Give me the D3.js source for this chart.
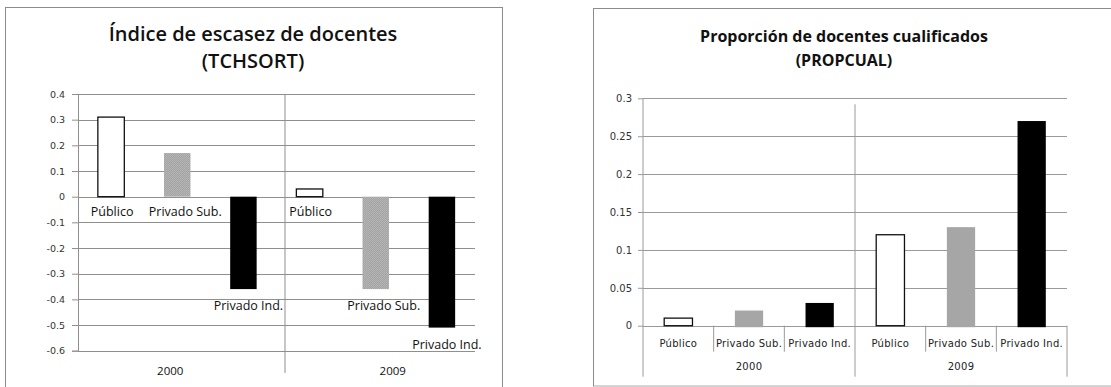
<!DOCTYPE html>
<html>
<head>
<meta charset="utf-8">
<script src="https://cdn.jsdelivr.net/npm/d3@7"></script>
<style>
  html, body { margin: 0; padding: 0; background: #fff; }
  svg { display: block; }
</style>
</head>
<body>
<svg id="chart" width="1111" height="387"></svg>
<script>
// School sectors and survey years
const sectors = ["Público", "Privado Sub.", "Privado Ind."];
const years = ["2000", "2009"];

// Teacher shortage index (TCHSORT) per sector
const tchsort2000 = [0.31, 0.17, -0.36];
const tchsort2009 = [0.03, -0.36, -0.51];

// Share of qualified teachers (PROPCUAL) per sector
const propcual2000 = [0.01, 0.02, 0.03];
const propcual2009 = [0.12, 0.13, 0.27];

// Axis ticks
const tchsortTicks = [0.4, 0.3, 0.2, 0.1, 0, -0.1, -0.2, -0.3, -0.4, -0.5, -0.6];
const propcualTicks = [0, 0.05, 0.1, 0.15, 0.2, 0.25, 0.3];

const svg = d3.select("#chart");

svg.append("defs").append("pattern")
  .attr("id", "stipple").attr("width", 2).attr("height", 2)
  .attr("patternUnits", "userSpaceOnUse")
  .call(p => {
    p.append("rect").attr("width", 2).attr("height", 2).attr("fill", "#a4a4a4");
    p.append("rect").attr("width", 1).attr("height", 1).attr("fill", "#b6b6b6");
    p.append("rect").attr("x", 1).attr("y", 1).attr("width", 1).attr("height", 1).attr("fill", "#b2b2b2");
  });

function rows(v2000, v2009) {
  const out = [];
  years.forEach((yr, gi) => {
    const vals = gi === 0 ? v2000 : v2009;
    sectors.forEach((s, si) => out.push({ key: yr + "|" + s, year: yr, sector: s, si, value: vals[si] }));
  });
  return out;
}

const fmt = v => String(v);

/* ---------------- Left panel: TCHSORT ---------------- */
(function () {
  const data = rows(tchsort2000, tchsort2009);
  const g = svg.append("g");
  const left = 78, right = 475, top = 94, bottom = 350.7;

  g.append("rect").attr("x", 5.5).attr("y", 7.5).attr("width", 497).attr("height", 420)
    .attr("fill", "#fff").attr("stroke", "#8c8c8c").attr("stroke-width", 1);

  const titleFont = t => t.attr("text-anchor", "middle").attr("font-family", "Open Sans")
    .attr("font-weight", 600).attr("font-size", 20).attr("fill", "#111");
  g.append("text").attr("x", 253).attr("y", 40.7).call(titleFont).text("Índice de escasez de docentes");
  g.append("text").attr("x", 253).attr("y", 67.5).call(titleFont).text("(TCHSORT)");

  const y = d3.scaleLinear().domain([-0.6, 0.4]).range([bottom, top]);
  const x = d3.scaleBand().domain(data.map(d => d.key)).range([left, right])
    .paddingInner(0.6).paddingOuter(0.3);

  // gridlines
  g.append("g").selectAll("line").data(tchsortTicks).join("line")
    .attr("x1", left).attr("x2", right)
    .attr("y1", d => Math.round(y(d)) + 0.5).attr("y2", d => Math.round(y(d)) + 0.5)
    .attr("stroke", "#8f8f8f").attr("stroke-width", 1);

  // y axis
  const ax = g.append("g").attr("transform", `translate(${left},0)`)
    .call(d3.axisLeft(y).tickValues(tchsortTicks).tickFormat(fmt).tickSize(6).tickPadding(7));
  ax.select(".domain").attr("stroke", "#8f8f8f");
  ax.selectAll(".tick line").attr("stroke", "#8f8f8f");
  ax.selectAll("text").attr("font-family", "DejaVu Sans").attr("font-size", 9.5).attr("fill", "#333");

  // group divider
  const divX = x(data[3].key) - x.step() * 0.3 + 8.5;
  g.append("line").attr("x1", divX).attr("x2", divX).attr("y1", top).attr("y2", 373)
    .attr("stroke", "#8f8f8f");

  const fills = ["#fff", "url(#stipple)", "#000"];
  g.append("g").selectAll("rect").data(data).join("rect")
    .attr("x", d => x(d.key))
    .attr("width", x.bandwidth())
    .attr("y", d => y(Math.max(0, d.value)))
    .attr("height", d => Math.abs(y(d.value) - y(0)))
    .attr("fill", d => fills[d.si])
    .attr("stroke", d => d.si === 0 ? "#111" : "none")
    .attr("stroke-width", 1.3);

  // category labels next to each bar
  const labelShift = [1, 8, 5];
  g.append("g").selectAll("text").data(data).join("text")
    .attr("x", d => x(d.key) + x.bandwidth() / 2 + labelShift[d.si])
    .attr("y", d => d.value >= 0 ? y(0) + 15 : y(d.value) + 17)
    .attr("dy", "0.35em")
    .attr("text-anchor", "middle")
    .attr("font-family", "Open Sans").attr("font-size", 12.5).attr("fill", "#111")
    .text(d => d.sector);

  // year labels
  g.append("g").selectAll("text").data(years).join("text")
    .attr("x", (yr, i) => x(yr + "|" + sectors[1]) + x.bandwidth() / 2 + (i === 0 ? -7 : 17))
    .attr("y", 371).attr("dy", "0.35em").attr("text-anchor", "middle")
    .attr("font-family", "Open Sans").attr("font-size", 11.5).attr("fill", "#111")
    .text(d => d);
})();

/* ---------------- Right panel: PROPCUAL ---------------- */
(function () {
  const data = rows(propcual2000, propcual2009);
  const g = svg.append("g");
  const left = 643, right = 1067, top = 98.3, bottom = 325.7;

  g.append("rect").attr("x", 593.5).attr("y", 8.5).attr("width", 560).attr("height", 377.5)
    .attr("fill", "#fff").attr("stroke", "#8c8c8c").attr("stroke-width", 1);
  g.append("line").attr("x1", 594).attr("x2", 1111).attr("y1", 386).attr("y2", 386)
    .attr("stroke", "#e2e2e2");

  const titleFont = t => t.attr("text-anchor", "middle").attr("font-family", "Open Sans")
    .attr("font-weight", 700).attr("font-size", 16).attr("fill", "#111");
  g.append("text").attr("x", 844).attr("y", 42).call(titleFont).text("Proporción de docentes cualificados");
  g.append("text").attr("x", 844).attr("y", 66).call(titleFont).text("(PROPCUAL)");

  const y = d3.scaleLinear().domain([0, 0.3]).range([bottom, top]);
  const x = d3.scaleBand().domain(data.map(d => d.key)).range([left, right])
    .paddingInner(0.6).paddingOuter(0.3);

  g.append("g").selectAll("line").data(propcualTicks).join("line")
    .attr("x1", left).attr("x2", right)
    .attr("y1", d => Math.round(y(d)) + 0.5).attr("y2", d => Math.round(y(d)) + 0.5)
    .attr("stroke", "#9a9a9a");

  const ax = g.append("g").attr("transform", `translate(${left},0)`)
    .call(d3.axisLeft(y).tickValues(propcualTicks).tickFormat(fmt).tickSize(5).tickPadding(6));
  ax.select(".domain").remove();
  ax.selectAll(".tick line").attr("stroke", "#9a9a9a");
  ax.selectAll("text").attr("font-family", "DejaVu Sans").attr("font-size", 10).attr("fill", "#333");

  // axis line running through the category rows
  g.append("line").attr("x1", left).attr("x2", left).attr("y1", top).attr("y2", 376.7).attr("stroke", "#9a9a9a");

  // multi-level category separators
  const step = x.step();
  const edges = d3.range(0, 7).map(i => left + i * step);
  g.append("g").selectAll("line").data(edges.slice(1)).join("line")
    .attr("x1", d => d).attr("x2", d => d)
    .attr("y1", (d, i) => i === 2 ? 104.3 : bottom)
    .attr("y2", (d, i) => (i === 2 || i === 5) ? 376.7 : 351.7)
    .attr("stroke", "#9a9a9a");

  const fills = ["#fff", "#a6a6a6", "#000"];
  g.append("g").selectAll("rect").data(data).join("rect")
    .attr("x", d => x(d.key))
    .attr("width", x.bandwidth())
    .attr("y", d => y(d.value))
    .attr("height", d => y(0) - y(d.value) + (d.si === 0 ? 0 : 1.5))
    .attr("fill", d => fills[d.si])
    .attr("stroke", d => d.si === 0 ? "#111" : "none")
    .attr("stroke-width", 1.3);

  const catFont = t => t.attr("text-anchor", "middle").attr("font-family", "DejaVu Sans")
    .attr("font-size", 10).attr("letter-spacing", 0.3).attr("fill", "#222");
  g.append("g").selectAll("text").data(data).join("text")
    .attr("x", d => x(d.key) + x.bandwidth() / 2)
    .attr("y", 343.3).attr("dy", "0.35em").call(catFont)
    .text(d => d.sector);

  g.append("g").selectAll("text").data(years).join("text")
    .attr("x", yr => x(yr + "|" + sectors[1]) + x.bandwidth() / 2)
    .attr("y", 366.7).attr("dy", "0.35em").call(catFont)
    .text(d => d);
})();
</script>
</body>
</html>
